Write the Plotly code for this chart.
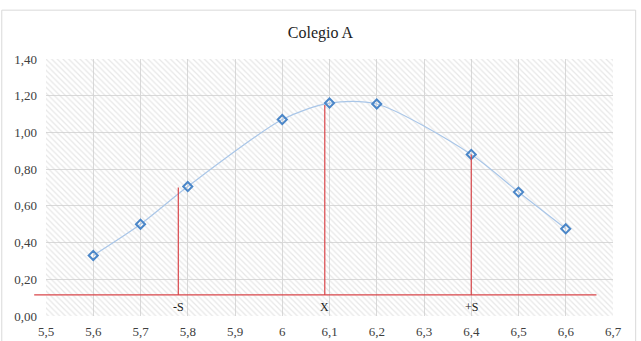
import plotly.graph_objects as go

# Data
x_vals = [5.6, 5.7, 5.8, 6.0, 6.1, 6.2, 6.4, 6.5, 6.6]
y_vals = [0.33, 0.50, 0.705, 1.07, 1.16, 1.155, 0.88, 0.675, 0.475]

x_ticks = [5.5, 5.6, 5.7, 5.8, 5.9, 6.0, 6.1, 6.2, 6.3, 6.4, 6.5, 6.6, 6.7]
x_tick_text = ["5,5", "5,6", "5,7", "5,8", "5,9", "6", "6,1", "6,2", "6,3", "6,4", "6,5", "6,6", "6,7"]
y_ticks = [0.0, 0.2, 0.4, 0.6, 0.8, 1.0, 1.2, 1.4]
y_tick_text = ["0,00", "0,20", "0,40", "0,60", "0,80", "1,00", "1,20", "1,40"]

# Reference lines (mean and +/- S)
ref_x = [5.78, 6.09, 6.40]
ref_top = [0.70, 1.15, 0.88]
ref_labels = ["-S", "X", "+S"]
base_y = 0.115
base_x_start = 5.475
base_x_end = 6.665

x_range = [5.5, 6.7]
y_range = [0.0, 1.4]

SERIF = "Times New Roman, Liberation Serif, serif"

fig = go.Figure()

# Hatched plot background (transparent so gridlines show)
fig.add_trace(go.Bar(
    x=[(x_range[0] + x_range[1]) / 2], y=[y_range[1] - y_range[0]], base=[y_range[0]],
    width=[x_range[1] - x_range[0]],
    marker=dict(color="rgba(0,0,0,0)", line=dict(width=0),
                pattern=dict(shape="\\", fgcolor="#cfcfcf", bgcolor="rgba(0,0,0,0)", size=4, solidity=0.3)),
    hoverinfo="skip", showlegend=False,
))

fig.add_trace(go.Scatter(
    x=x_vals, y=y_vals, mode="lines+markers",
    line=dict(color="#a9c6e8", width=1.2, shape="spline", smoothing=0.8),
    marker=dict(symbol="diamond-open", size=7, color="#4a86c8", line=dict(width=2, color="#4a86c8")),
    showlegend=False,
))

shapes = []
for xv, top in zip(ref_x, ref_top):
    shapes.append(dict(type="line", xref="x", yref="y", x0=xv, x1=xv, y0=base_y, y1=top,
                       line=dict(color="#d9464a", width=1.2), layer="above"))

x0p = (base_x_start - x_range[0]) / (x_range[1] - x_range[0])
x1p = (base_x_end - x_range[0]) / (x_range[1] - x_range[0])
shapes.append(dict(type="line", xref="paper", yref="y", x0=x0p, x1=x1p, y0=base_y, y1=base_y,
                   line=dict(color="#d9464a", width=1.2), layer="above"))

# Chart outer border
shapes.append(dict(type="rect", xref="paper", yref="paper", x0=-0.078, x1=1.04, y0=-0.3, y1=1.19,
                   line=dict(color="#d9d9d9", width=1), layer="below"))

annotations = []
for xv, lab in zip(ref_x, ref_labels):
    annotations.append(dict(x=xv, y=0.05, xref="x", yref="y", text=lab, showarrow=False,
                            font=dict(family=SERIF, size=12, color="#222222")))

fig.update_layout(
    width=641, height=341,
    margin=dict(l=46, r=28, t=59, b=25, autoexpand=False),
    paper_bgcolor="white", plot_bgcolor="white",
    separators=",.",
    font=dict(family=SERIF),
    title=dict(text="Colegio A", x=0.5, xref="container", xanchor="center", y=0.905, yanchor="middle",
               font=dict(family=SERIF, size=16, color="#222222")),
    xaxis=dict(range=x_range, tickvals=x_ticks, ticktext=x_tick_text, showgrid=True,
               gridcolor="#d9d9d9", gridwidth=1, zeroline=False, showline=False, automargin=False,
               tickfont=dict(family=SERIF, size=13, color="#404040"), ticks="",
               ticklabelstandoff=6),
    yaxis=dict(range=y_range, tickvals=y_ticks, ticktext=y_tick_text, showgrid=True,
               gridcolor="#d9d9d9", gridwidth=1, zeroline=False, showline=False, automargin=False,
               tickfont=dict(family=SERIF, size=13, color="#404040"), ticks="",
               ticklabelstandoff=8),
    shapes=shapes, annotations=annotations,
    bargap=0,
)

fig.write_html("out.html")
